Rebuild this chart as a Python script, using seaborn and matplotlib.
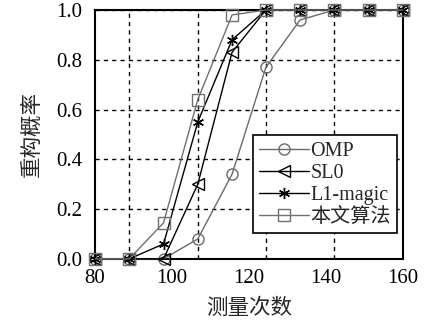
import seaborn as sns
import matplotlib.pyplot as plt
import pandas as pd
import numpy as np

sns.set_style('white')
plt.rcParams['font.family'] = ['Liberation Serif', 'Noto Sans CJK SC']
plt.rcParams['axes.unicode_minus'] = False

# measurement counts and reconstruction probabilities
m = [80, 88.9, 97.8, 106.7, 115.6, 124.4, 133.3, 142.2, 151.1, 160]
omp = [0, 0, 0, 0.08, 0.34, 0.77, 0.96, 1.0, 1.0, 1.0]
sl0 = [0, 0, 0, 0.30, 0.83, 1.0, 1.0, 1.0, 1.0, 1.0]
l1magic = [0, 0, 0.06, 0.55, 0.88, 1.0, 1.0, 1.0, 1.0, 1.0]
ours = [0, 0, 0.145, 0.64, 0.98, 1.0, 1.0, 1.0, 1.0, 1.0]
names = ['OMP', 'SL0', 'L1-magic', '本文算法']
grid_x = [88.9, 106.7, 124.4, 142.2]

fig = plt.figure(figsize=(4.3, 3.22), dpi=100)
ax = fig.add_axes([0.221, 0.196, 0.716, 0.773])

styles = [
    (omp, 'o', '#6a6a6a', 8),
    (sl0, '<', 'black', 8),
    (l1magic, (6, 2, 0), 'black', 8),
    (ours, 's', '#707070', 8),
]
for (y, mk, c, ms), name in zip(styles, names):
    a = sns.lineplot(x=m, y=y, ax=ax, marker=mk, color=c, lw=1.0, ms=ms,
                     mfc='none', mec=c, mew=1.0, label=name, clip_on=False,
                     zorder=3)

ax.set_xlim(80, 160)
ax.set_ylim(0, 1.0)
ax.set_xticks([80, 100, 120, 140, 160])
ax.set_yticks(np.arange(0, 1.01, 0.2))
ax.set_yticklabels(['0.0', '0.2', '0.4', '0.6', '0.8', '1.0'])
ax.set_xticks(grid_x, minor=True)
ax.tick_params(axis='both', which='both', length=0, labelsize=15, colors='black')
ax.tick_params(axis='x', pad=7)
ax.tick_params(axis='y', pad=9)
ax.grid(False)
ax.grid(True, axis='x', which='minor', ls=(0, (3, 3)), color='black', lw=1.0)
ax.grid(True, axis='y', which='major', ls=(0, (3, 3)), color='black', lw=1.0)
for s in ax.spines.values():
    s.set_color('black')
    s.set_linewidth(1.5)
ax.set_axisbelow(True)

ax.set_xlabel('测量次数', fontsize=15.5, labelpad=8)
ax.set_ylabel('重构概率', fontsize=15.5, labelpad=10)

leg = ax.legend(loc='lower right', bbox_to_anchor=(0.98, 0.104), borderaxespad=0,
                fontsize=14.5, frameon=True, fancybox=False, edgecolor='black',
                framealpha=1, handlelength=2.5, labelspacing=0.15, borderpad=0.3,
                handletextpad=0.05)
leg.get_frame().set_linewidth(1.2)
leg.set_zorder(5)

fig.savefig('out.png', dpi=100)
